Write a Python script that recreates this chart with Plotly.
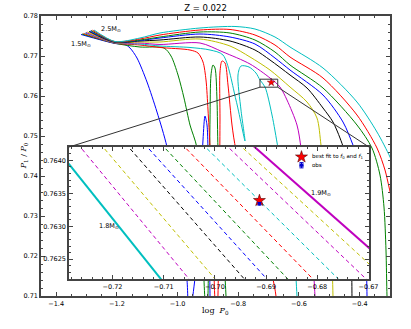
import plotly.graph_objects as go

# ---------------- data ----------------
masses = ['1.5', '1.6', '1.7', '1.8', '1.9', '2.0', '2.1', '2.2', '2.3', '2.4', '2.5']
cycle = ['#0000ff', '#008000', '#ff0000', '#00bfbf', '#bf00bf', '#bfbf00', '#000000']  # old matplotlib bgrcmyk

# tips of the tracks (left) and the point where they all pinch together
start_x = [-1.3182, -1.3149, -1.3100, -1.3050, -1.3017, -1.2968, -1.2918, -1.2886, -1.2853, -1.2803, -1.2754]
start_y = [0.77538, 0.77550, 0.77563, 0.77575, 0.77588, 0.77600, 0.77613, 0.77625, 0.77638, 0.77645, 0.77650]
pinch_x = -1.2062
pinch_y = [0.77313, 0.77318, 0.77323, 0.77328, 0.77333, 0.77338, 0.77343, 0.77348, 0.77353, 0.77358, 0.77363]

# rest of each track
t15_x = [-1.1732, -1.1567, -1.1337, -1.1007, -1.0678, -1.0348, -0.9920, -0.9689, -0.9623, -0.9327, -0.9162, -0.9096, -0.9030, -0.8997, -0.8964, -0.8931, -0.8931]
t15_y = [0.77288, 0.77200, 0.76950, 0.76350, 0.75600, 0.74725, 0.72900, 0.71400, 0.70450, 0.72150, 0.74900, 0.75500, 0.75275, 0.74650, 0.72650, 0.71000, 0.70400]
t16_x = [-1.1238, -1.0447, -1.0216, -0.9985, -0.9788, -0.9590, -0.9360, -0.9195, -0.9096, -0.9030, -0.8964, -0.8931, -0.8898, -0.8833, -0.8767, -0.8701, -0.8668, -0.8536, -0.8404, -0.8371]
t16_y = [0.77225, 0.77200, 0.77000, 0.76525, 0.75950, 0.75275, 0.74700, 0.72650, 0.70900, 0.70450, 0.72650, 0.75400, 0.76525, 0.76775, 0.76700, 0.75900, 0.74700, 0.72900, 0.71000, 0.70400]
t17_x = [-1.1238, -1.0579, -0.9590, -0.9327, -0.9162, -0.9063, -0.8997, -0.8931, -0.8833, -0.8767, -0.8701, -0.8635, -0.8602, -0.8602, -0.8536, -0.8437, -0.8338, -0.8206, -0.8075, -0.7350, -0.6888, -0.6757, -0.6724]
t17_y = [0.77275, 0.77213, 0.77150, 0.77075, 0.76850, 0.76400, 0.75650, 0.74725, 0.72650, 0.70900, 0.70450, 0.72650, 0.75400, 0.76600, 0.76875, 0.76825, 0.76275, 0.75275, 0.74650, 0.72650, 0.71525, 0.71000, 0.70400]
t18_x = [-1.1238, -1.0579, -0.9590, -0.8931, -0.8503, -0.8075, -0.7778, -0.7910, -0.8009, -0.7910, -0.7646, -0.7416, -0.7284, -0.7119, -0.6888, -0.6691, -0.6394, -0.6163, -0.6065, -0.6032]
t18_y = [0.77300, 0.77250, 0.77213, 0.77150, 0.77025, 0.75900, 0.74875, 0.75650, 0.76525, 0.76750, 0.76725, 0.76575, 0.76400, 0.76225, 0.75525, 0.74700, 0.73400, 0.72150, 0.71000, 0.70400]
t19_x = [-1.1238, -1.0579, -0.9261, -0.8503, -0.7613, -0.6954, -0.6625, -0.6394, -0.6065, -0.5933, -0.5768, -0.5570, -0.5472, -0.5439]
t19_y = [0.77325, 0.77288, 0.77325, 0.77100, 0.76800, 0.76450, 0.76225, 0.75900, 0.75275, 0.74700, 0.73400, 0.72150, 0.71000, 0.70400]
t20_x = [-1.1238, -1.0579, -0.9261, -0.8272, -0.7613, -0.6954, -0.6295, -0.5735, -0.5406, -0.5274, -0.5109, -0.4945, -0.4879, -0.4879]
t20_y = [0.77350, 0.77350, 0.77425, 0.77250, 0.76975, 0.76650, 0.76225, 0.75850, 0.75450, 0.74775, 0.73650, 0.72400, 0.71000, 0.70400]
t21_x = [-1.1238, -1.0579, -0.9261, -0.8272, -0.7449, -0.6954, -0.6295, -0.5735, -0.5208, -0.4879, -0.4648, -0.4516, -0.4384, -0.4286, -0.4253, -0.4253]
t21_y = [0.77375, 0.77400, 0.77475, 0.77375, 0.77150, 0.76900, 0.76525, 0.76200, 0.75700, 0.75350, 0.74950, 0.74650, 0.73900, 0.72650, 0.71000, 0.70400]
t22_x = [-1.1238, -1.0579, -0.9261, -0.8272, -0.7449, -0.6790, -0.6295, -0.5208, -0.4549, -0.4220, -0.3989, -0.3857, -0.3791, -0.3758, -0.3758]
t22_y = [0.77388, 0.77450, 0.77550, 0.77475, 0.77300, 0.76950, 0.76650, 0.76025, 0.75350, 0.74775, 0.74275, 0.73400, 0.72150, 0.71000, 0.70400]
t23_x = [-1.1238, -1.0579, -0.9261, -0.8272, -0.7449, -0.6790, -0.6295, -0.5208, -0.4088, -0.3594, -0.3330, -0.3198, -0.3132, -0.3099, -0.3066]
t23_y = [0.77400, 0.77475, 0.77600, 0.77575, 0.77400, 0.77100, 0.76775, 0.76200, 0.75275, 0.74700, 0.74025, 0.73225, 0.72150, 0.71000, 0.70400]
t24_x = [-1.1238, -1.0579, -0.9261, -0.8272, -0.7449, -0.6790, -0.6295, -0.5208, -0.4088, -0.3429, -0.3165, -0.3033, -0.2901]
t24_y = [0.77425, 0.77525, 0.77650, 0.77663, 0.77525, 0.77275, 0.76975, 0.76450, 0.75525, 0.74700, 0.74150, 0.73725, 0.73275]
t25_x = [-1.1238, -1.0579, -0.9261, -0.8108, -0.7449, -0.6790, -0.6295, -0.5208, -0.4088, -0.3429, -0.3000, -0.2802]
t25_y = [0.77450, 0.77575, 0.77700, 0.77738, 0.77675, 0.77475, 0.77225, 0.76700, 0.75850, 0.75100, 0.74475, 0.74100]

tracks_x = [t15_x, t16_x, t17_x, t18_x, t19_x, t20_x, t21_x, t22_x, t23_x, t24_x, t25_x]
tracks_y = [t15_y, t16_y, t17_y, t18_y, t19_y, t20_y, t21_y, t22_y, t23_y, t24_y, t25_y]

# inset: fine grid 1.80 ... 1.90 Msun, nearly straight segments
fine_masses = ['1.80', '1.81', '1.82', '1.83', '1.84', '1.85', '1.86', '1.87', '1.88', '1.89', '1.90']
fine_colors = ['#00bfbf', '#bf00bf', '#bfbf00', '#000000', '#0000ff', '#008000', '#ff0000',
               '#00bfbf', '#bf00bf', '#bfbf00', '#bf00bf']
fine_top_x = [-0.73167, -0.72681, -0.72240, -0.71742, -0.71379, -0.71054, -0.70652, -0.70250, -0.69810, -0.69544, -0.69296]
fine_bot_x = [-0.71004, -0.70452, -0.69942, -0.69369, -0.68927, -0.68516, -0.68023, -0.67525, -0.66979, -0.66600, -0.66229]
fine_top_y = 0.76425
fine_bot_y = 0.76215

best_x, best_y = [-0.6913], [0.76339]
obs_x, obs_y, obs_err = [-0.6913], [0.76334], [0.00002]

main_xr = [-1.45, -0.30]
main_yr = [0.71, 0.78]
ins_xr = [-0.7285, -0.6699]
ins_yr = [0.7622, 0.7642]
ins_dom_x = [0.0802, 0.9398]
ins_dom_y = [0.0607, 0.532]

FONT = 'DejaVu Sans'
SERIF = 'DejaVu Serif'
FRAME = '#444444'

fig = go.Figure()

# ----------- main panel tracks -----------
for i, m in enumerate(masses):
    xs = [start_x[i], pinch_x] + tracks_x[i]
    ys = [start_y[i], pinch_y[i]] + tracks_y[i]
    fig.add_trace(go.Scatter(
        x=xs, y=ys, mode='lines', name=m, showlegend=False,
        line=dict(color=cycle[i % 7], width=1, shape='spline', smoothing=0.8),
        xaxis='x', yaxis='y'
    ))

fig.add_trace(go.Scatter(
    x=best_x, y=best_y, mode='markers', showlegend=False,
    marker=dict(symbol='star', size=6, color='#ff0000', line=dict(color='#550000', width=0.4)),
    xaxis='x', yaxis='y'
))

# ----------- inset -----------
for k, m in enumerate(fine_masses):
    solid = k in (0, len(fine_masses) - 1)
    fig.add_trace(go.Scatter(
        x=[fine_top_x[k], fine_bot_x[k]], y=[fine_top_y, fine_bot_y],
        mode='lines', showlegend=False, name=m,
        line=dict(color=fine_colors[k], width=2 if solid else 1,
                  dash='solid' if solid else '4px,3px'),
        xaxis='x2', yaxis='y2'
    ))

fig.add_trace(go.Scatter(
    x=best_x, y=best_y, mode='markers', name='best fit', showlegend=False,
    marker=dict(symbol='star', size=9, color='#ff0000', line=dict(color='#550000', width=0.6)),
    xaxis='x2', yaxis='y2'
))
fig.add_trace(go.Scatter(
    x=obs_x, y=obs_y, mode='markers', name='obs', showlegend=False,
    marker=dict(symbol='circle', size=3.5, color='#0000cc'),
    error_y=dict(type='data', array=obs_err, color='#0000cc', thickness=1, width=2),
    xaxis='x2', yaxis='y2'
))

# ----------- hand-made legend inside the inset (matplotlib style, compact) -----------
def ins_x(f):
    return ins_xr[0] + f * (ins_xr[1] - ins_xr[0])

def ins_y(f):
    return ins_yr[0] + f * (ins_yr[1] - ins_yr[0])

fig.add_shape(type='rect', xref='x2 domain', yref='y2 domain', x0=0.743, x1=0.993, y0=0.818, y1=0.977,
              line=dict(color='#888888', width=1), fillcolor='white', layer='below')
fig.add_trace(go.Scatter(
    x=[ins_x(0.775)], y=[ins_y(0.925)], mode='markers', showlegend=False, hoverinfo='skip',
    marker=dict(symbol='star', size=9, color='#ff0000', line=dict(color='#550000', width=0.6)),
    xaxis='x2', yaxis='y2'
))
fig.add_trace(go.Scatter(
    x=[ins_x(0.775)], y=[ins_y(0.862)], mode='markers', showlegend=False, hoverinfo='skip',
    marker=dict(symbol='circle', size=3.5, color='#0000cc'),
    error_y=dict(type='constant', value=0.00004, color='#0000cc', thickness=1, width=2),
    error_x=dict(type='constant', value=0.0003, color='#0000cc', thickness=1, width=2),
    xaxis='x2', yaxis='y2'
))
fig.add_annotation(xref='x2 domain', yref='y2 domain', x=0.805, y=0.925, xanchor='left', yanchor='middle',
                   showarrow=False, text='best fit to <i>f</i><sub>0</sub> and <i>f</i><sub>1</sub>',
                   font=dict(family=FONT, size=5.5, color='black'))
fig.add_annotation(xref='x2 domain', yref='y2 domain', x=0.805, y=0.862, xanchor='left', yanchor='middle',
                   showarrow=False, text='obs', font=dict(family=FONT, size=5.5, color='black'))

# ----------- zoom box and connectors -----------
box_col = '#333333'
fig.add_shape(type='rect', xref='x', yref='y', x0=ins_xr[0], x1=ins_xr[1], y0=ins_yr[0], y1=ins_yr[1],
              line=dict(color=box_col, width=1))
# inset corners expressed in main-axis data units
ix0 = main_xr[0] + ins_dom_x[0] * (main_xr[1] - main_xr[0])
ix1 = main_xr[0] + ins_dom_x[1] * (main_xr[1] - main_xr[0])
iy1 = main_yr[0] + ins_dom_y[1] * (main_yr[1] - main_yr[0])
fig.add_shape(type='line', xref='x', yref='y', x0=ins_xr[0], y0=ins_yr[0], x1=ix0, y1=iy1,
              line=dict(color=box_col, width=1))
fig.add_shape(type='line', xref='x', yref='y', x0=ins_xr[1], y0=ins_yr[0], x1=ix1, y1=iy1,
              line=dict(color=box_col, width=1))

# ----------- labels -----------
def msun(txt):
    return txt + 'M<sub>\u2299</sub>'

ann = [
    dict(x=-1.2194, y=0.77675, xref='x', yref='y', text=msun('2.5')),
    dict(x=-1.318, y=0.7730, xref='x', yref='y', text=msun('1.5')),
    dict(x=-0.7207, y=0.76301, xref='x2', yref='y2', text=msun('1.8')),
    dict(x=-0.6792, y=0.76351, xref='x2', yref='y2', text=msun('1.9')),
]
for a in ann:
    fig.add_annotation(showarrow=False, font=dict(family=FONT, size=6.5, color='black'), **a)

fig.add_annotation(x=0.5, y=-0.054, xref='paper', yref='paper', showarrow=False,
                   text='log  <i>P</i><sub>0</sub>', yanchor='middle',
                   font=dict(family=SERIF, size=8, color='black'))
fig.add_annotation(x=-0.068, y=0.5, xref='paper', yref='paper', showarrow=False,
                   text='<i>P</i><sub>1</sub> / <i>P</i><sub>0</sub>', textangle=-90,
                   font=dict(family=SERIF, size=8, color='black'))

axis_common = dict(showline=True, linecolor=FRAME, linewidth=1.5, mirror='ticks', ticks='inside',
                   ticklen=4, tickwidth=1, tickcolor=FRAME, showgrid=False, zeroline=False,
                   tickfont=dict(family=FONT, size=6.5, color='black'))

fig.update_layout(
    width=411, height=329,
    margin=dict(l=41, r=21, t=16, b=33),
    paper_bgcolor='white', plot_bgcolor='white',
    showlegend=False,
    title=dict(text='Z = 0.022', x=0.5, xanchor='center', y=1 - 8 / 329, yanchor='middle',
               font=dict(family=FONT, size=8.5, color='black')),
    xaxis=dict(domain=[0, 1], range=main_xr, tick0=-1.4, dtick=0.2, tickformat='.1f',
               minor=dict(ticks='inside', ticklen=2, dtick=0.05, tickcolor=FRAME), **axis_common),
    yaxis=dict(domain=[0, 1], range=main_yr, tick0=0.71, dtick=0.01, tickformat='.2f',
               minor=dict(ticks='inside', ticklen=2, dtick=0.002, tickcolor=FRAME), **axis_common),
    xaxis2=dict(domain=ins_dom_x, anchor='y2', range=ins_xr, tick0=-0.72, dtick=0.01, tickformat='.2f',
                minor=dict(ticks='inside', ticklen=2, dtick=0.002, tickcolor=FRAME), **axis_common),
    yaxis2=dict(domain=ins_dom_y, anchor='x2', range=ins_yr, tick0=0.7625, dtick=0.0005, tickformat='.4f',
                minor=dict(ticks='inside', ticklen=2, dtick=0.0001, tickcolor=FRAME), **axis_common),
)

fig.write_html('out.html', config={'displayModeBar': False},
               post_script="document.body.style.margin='0px';")
